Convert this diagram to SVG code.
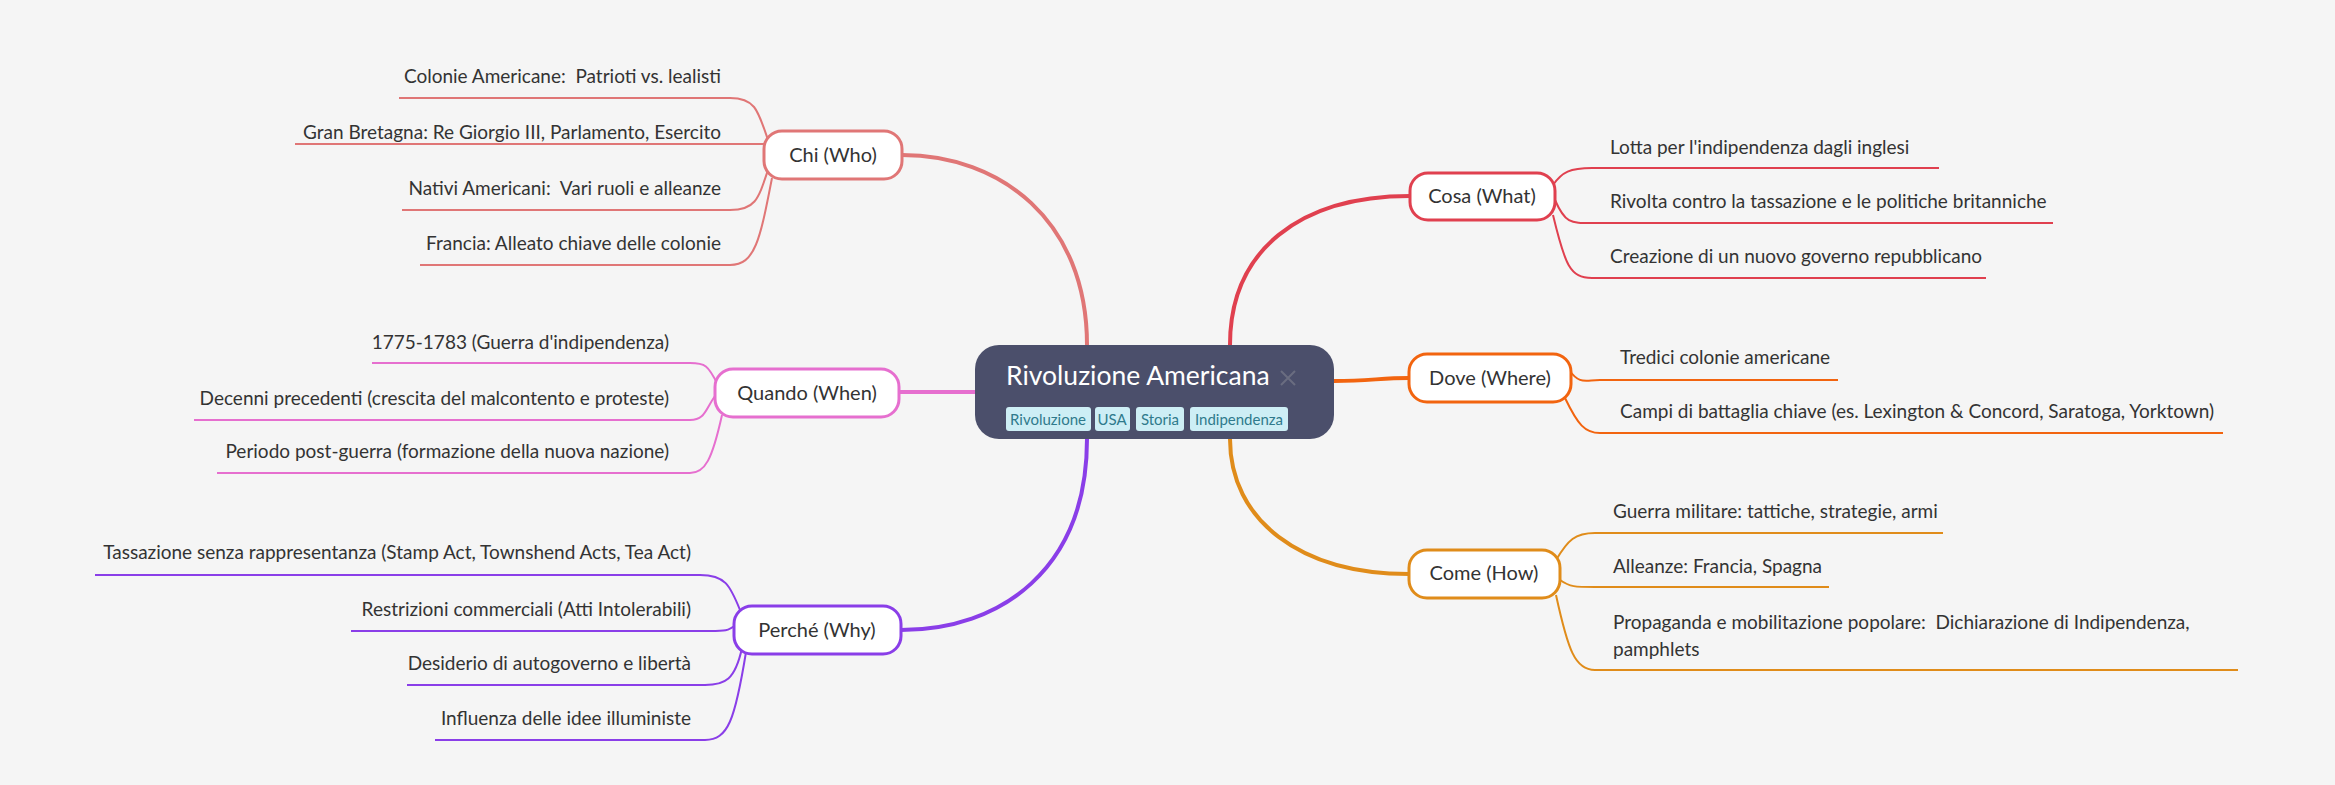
<svg xmlns="http://www.w3.org/2000/svg" width="2335" height="785" viewBox="0 0 2335 785">
<style>
text{font-family:Lato,"Liberation Sans",sans-serif;fill:#333;white-space:pre}
.l{font-size:19px}
.b{font-size:20px;text-anchor:middle}
.c{fill:none;stroke-width:2}
.m{fill:none;stroke-width:4}
.n{fill:#fff;stroke-width:3}
.tag{fill:#cdeef5}
.tt{font-size:15px;fill:#2f7a8c;text-anchor:middle}
.r{text-anchor:end}
</style>
<rect width="2335" height="785" fill="#f5f5f5"/>
<g id="connectors">
<path class="m" stroke="#e07676" d="M1087,345 C1087,220 1000,155 902,155"/>
<path class="m" stroke="#e66fcf" d="M975,392 L899,392"/>
<path class="m" stroke="#8a3ee8" d="M1087,439 C1087,570 1000,630 901,630"/>
<path class="m" stroke="#e0404f" d="M1230,345 C1230,250 1300,196 1410,196"/>
<path class="m" stroke="#f2640f" d="M1334,381 C1370,381 1380,378 1409,378"/>
<path class="m" stroke="#e08c1a" d="M1230,439 C1230,520 1300,574 1409,574"/>
<g stroke="#e07676" class="c">
<path d="M768,140 C758,110 755,98 730,98 L399,98"/>
<path d="M764,144 L295,144"/>
<path d="M768,170 C758,200 755,210 730,210 L402,210"/>
<path d="M772,178 C760,240 755,265 730,265 L420,265"/>
</g>
<g stroke="#e66fcf" class="c">
<path d="M718,385 C708,365 705,363 690,363 L372,363"/>
<path d="M715,396 C705,410 705,420 690,420 L194,420"/>
<path d="M722,415 C712,460 705,473 690,473 L217,473"/>
</g>
<g stroke="#8a3ee8" class="c">
<path d="M740,610 C730,585 725,575 700,575 L95,575"/>
<path d="M736,625 C728,631 725,631 710,631 L351,631"/>
<path d="M742,648 C735,680 725,685 705,685 L407,685"/>
<path d="M746,652 C735,720 728,740 705,740 L435,740"/>
</g>
<g stroke="#e0404f" class="c">
<path d="M1553,185 C1562,172 1570,168 1592,168 L1939,168"/>
<path d="M1555,200 C1565,223 1570,223 1592,223 L2053,223"/>
<path d="M1553,215 C1565,265 1570,278 1592,278 L1986,278"/>
</g>
<g stroke="#f2640f" class="c">
<path d="M1569,370 C1580,385 1585,380 1600,380 L1838,380"/>
<path d="M1565,398 C1578,425 1585,433 1600,433 L2223,433"/>
</g>
<g stroke="#e08c1a" class="c">
<path d="M1556,560 C1568,540 1575,533 1595,533 L1943,533"/>
<path d="M1560,580 C1570,587 1575,587 1595,587 L1829,587"/>
<path d="M1556,595 C1568,650 1575,670 1595,670 L2238,670"/>
</g>
</g>
<g id="center">
<rect x="975" y="345" width="359" height="94" rx="24" fill="#4b4f6b"/>
<text x="1006" y="385" style="font-size:26.5px;fill:#fff">Rivoluzione Americana</text>
<path d="M1281,371 L1295,385 M1295,371 L1281,385" stroke="#6a6d80" stroke-width="2"/>
<rect class="tag" x="1006" y="407" width="85" height="24" rx="3"/><text class="tt" x="1048" y="425">Rivoluzione</text>
<rect class="tag" x="1095" y="407" width="35" height="24" rx="3"/><text class="tt" x="1112" y="425">USA</text>
<rect class="tag" x="1136" y="407" width="48" height="24" rx="3"/><text class="tt" x="1160" y="425">Storia</text>
<rect class="tag" x="1190" y="407" width="98" height="24" rx="3"/><text class="tt" x="1239" y="425">Indipendenza</text>
</g>
<g id="chi"><rect class="n" stroke="#e07676" x="764" y="131" width="138" height="48" rx="18"/><text class="b" x="833" y="162">Chi (Who)</text></g>
<g id="quando"><rect class="n" stroke="#e66fcf" x="715" y="369" width="184" height="48" rx="18"/><text class="b" x="807" y="400">Quando (When)</text></g>
<g id="perche"><rect class="n" stroke="#8a3ee8" x="734" y="606" width="167" height="48" rx="18"/><text class="b" x="817" y="637">Perché (Why)</text></g>
<g id="cosa"><rect class="n" stroke="#e0404f" x="1410" y="173" width="145" height="47" rx="18"/><text class="b" x="1482" y="203">Cosa (What)</text></g>
<g id="dove"><rect class="n" stroke="#f2640f" x="1409" y="354" width="162" height="48" rx="18"/><text class="b" x="1490" y="385">Dove (Where)</text></g>
<g id="come"><rect class="n" stroke="#e08c1a" x="1409" y="550" width="151" height="48" rx="18"/><text class="b" x="1484" y="580">Come (How)</text></g>
<g id="leaves">
<text class="l r" x="721" y="83">Colonie Americane:  Patrioti vs. lealisti</text>
<text class="l r" x="721" y="139">Gran Bretagna: Re Giorgio III, Parlamento, Esercito</text>
<text class="l r" x="721" y="195">Nativi Americani:  Vari ruoli e alleanze</text>
<text class="l r" x="721" y="250">Francia: Alleato chiave delle colonie</text>
<text class="l r" x="669" y="349">1775-1783 (Guerra d'indipendenza)</text>
<text class="l r" x="669" y="405">Decenni precedenti (crescita del malcontento e proteste)</text>
<text class="l r" x="669" y="458">Periodo post-guerra (formazione della nuova nazione)</text>
<text class="l r" x="691" y="559">Tassazione senza rappresentanza (Stamp Act, Townshend Acts, Tea Act)</text>
<text class="l r" x="691" y="616">Restrizioni commerciali (Atti Intolerabili)</text>
<text class="l r" x="691" y="670">Desiderio di autogoverno e libertà</text>
<text class="l r" x="691" y="725">Influenza delle idee illuministe</text>
<text class="l" x="1610" y="154">Lotta per l'indipendenza dagli inglesi</text>
<text class="l" x="1610" y="208">Rivolta contro la tassazione e le politiche britanniche</text>
<text class="l" x="1610" y="263">Creazione di un nuovo governo repubblicano</text>
<text class="l" x="1620" y="364">Tredici colonie americane</text>
<text class="l" x="1620" y="418">Campi di battaglia chiave (es. Lexington &amp; Concord, Saratoga, Yorktown)</text>
<text class="l" x="1613" y="518">Guerra militare: tattiche, strategie, armi</text>
<text class="l" x="1613" y="573">Alleanze: Francia, Spagna</text>
<text class="l" x="1613" y="629">Propaganda e mobilitazione popolare:  Dichiarazione di Indipendenza,</text>
<text class="l" x="1613" y="656">pamphlets</text>
</g>
</svg>
